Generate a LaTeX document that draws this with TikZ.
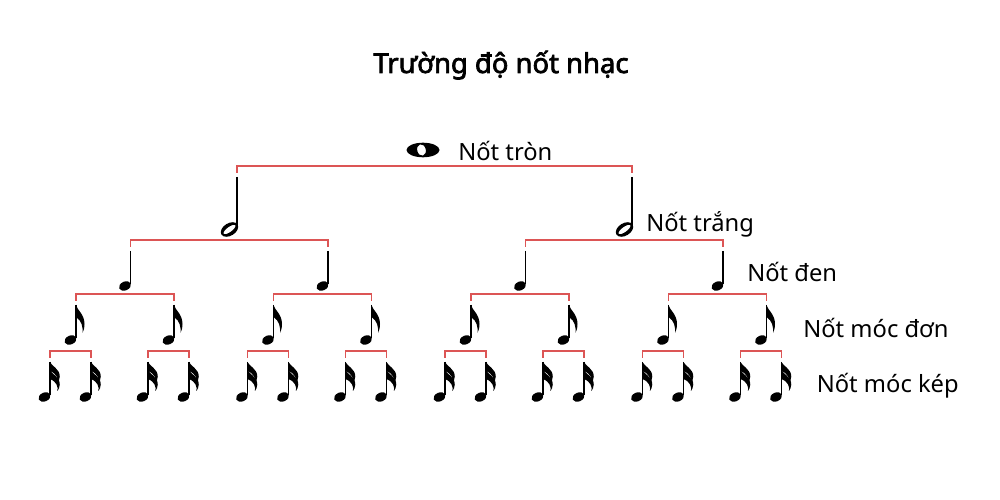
\documentclass[tikz,border=0pt]{standalone}
\usepackage{fontspec}
\setmainfont{Noto Sans}[AutoFakeBold=2.6]
\usetikzlibrary{positioning,trees}

\definecolor{bracketred}{RGB}{220,85,85}

\tikzset{
  stem/.style={line width=0.9pt},
  lbl/.style={font=\fontsize{13.5}{16}\selectfont, inner sep=0pt},
  pics/whole/.style={code={
    \fill[even odd rule] (0,0) ellipse[x radius=16.5, y radius=7.3]
      (-1.5,0) ellipse[x radius=4.3, y radius=5.8, rotate=15];
  }},
  pics/half/.style={code={
    \draw[stem] (0,0) -- (0,-50);
    \fill[even odd rule] (-7.5,-52.5) ellipse[x radius=9.5, y radius=6.2, rotate=32]
      (-7.5,-52.5) ellipse[x radius=7.2, y radius=2.6, rotate=36];
  }},
  pics/quarter/.style={code={
    \draw[stem] (0,0) -- (0,-33);
    \fill (-5.5,-35) ellipse[x radius=6.3, y radius=4.4, rotate=25];
  }},
  pics/flag/.style={code={
    \fill (0,0) .. controls (1,-5) and (8.5,-9) .. (8.5,-19)
      .. controls (8.5,-23) and (7.5,-26) .. (6.5,-28)
      .. controls (7,-22) and (6,-16) .. (0,-12) -- cycle;
  }},
  pics/eighth/.style={code={
    \pic at (0,0) {quarter};
    \pic at (0,0) {flag};
  }},
  pics/sixteenth/.style={code={
    \pic at (0,0) {quarter};
    \pic[xscale=1.15, yscale=.75] at (0,0) {flag};
    \pic[xscale=1.15, yscale=.75] at (0,-8) {flag};
  }}
}

\begin{document}
\begin{tikzpicture}[x=0.2mm, y=0.2mm,
    edge from parent/.style={draw=bracketred, line width=0.6pt, shorten >=0.8mm},
    edge from parent path={(\tikzparentnode |- \tikzchildnode) ++(0,11) -| (\tikzchildnode)},
    level 1/.style={grow via three points={one child at (11.5,-27) and two children at (-186,-27) and (209,-27)}},
    level 2/.style={grow via three points={one child at (-7.5,-74) and two children at (-106.5,-74) and (91,-74)}},
    level 3/.style={grow via three points={one child at (-5.5,-54) and two children at (-54.5,-54) and (43.5,-54)}},
    level 4/.style={grow via three points={one child at (-5.5,-57) and two children at (-26,-57) and (15,-57)}}
    ]
    \useasboundingbox (0,0) rectangle (1000,500);

    \node[font=\bfseries\fontsize{15.6}{18}\selectfont, anchor=base] (title) at (501,427) {Trường độ nốt nhạc};

    \coordinate (w) at (423,350)
    child foreach \a in {1,2} { coordinate (w-\a)
        child foreach \b in {1,2} { coordinate (w-\a-\b)
            child foreach \c in {1,2} { coordinate (w-\a-\b-\c)
                child foreach \d in {1,2} { coordinate (w-\a-\b-\c-\d) }
            }
        }
    };

    % note glyphs
    \pic at (w) {whole};
    \foreach \a in {1,2} {
        \pic at (w-\a) {half};
        \foreach \b in {1,2} {
            \pic at (w-\a-\b) {quarter};
            \foreach \c in {1,2} {
                \pic at (w-\a-\b-\c) {eighth};
                \foreach \d in {1,2}
                    \pic at (w-\a-\b-\c-\d) {sixteenth};
            }
        }
    }

    % names
    \node[lbl, right=7mm of w, anchor=base west, yshift=-2.2mm] {Nốt tròn};
    \node[lbl, right=2.8mm of w-2, anchor=base west, yshift=-10.9mm] {Nốt trắng};
    \node[lbl, right=4.8mm of w-2-2, anchor=base west, yshift=-6.1mm] {Nốt đen};
    \node[lbl, right=7.3mm of w-2-2-2, anchor=base west, yshift=-6.6mm] {Nốt móc đơn};
    \node[lbl, right=7mm of w-2-2-2-2, anchor=base west, yshift=-6.2mm] {Nốt móc kép};
\end{tikzpicture}
\end{document}
